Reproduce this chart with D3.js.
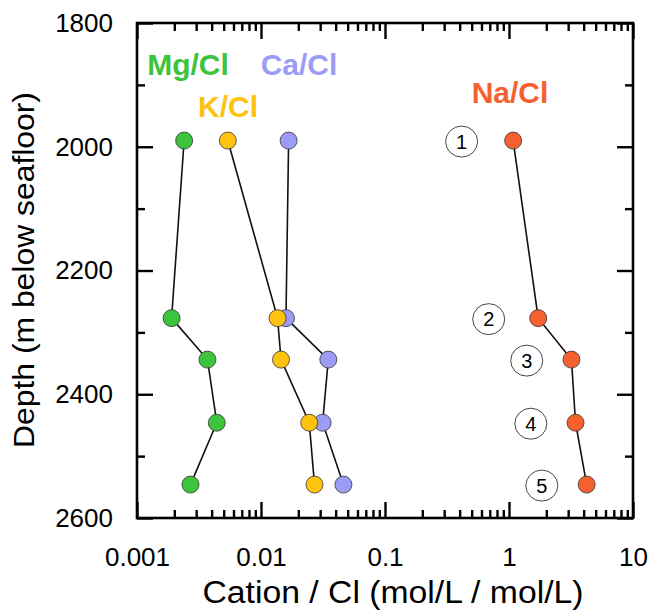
<!DOCTYPE html>
<html>
<head>
<meta charset="utf-8">
<script src="https://cdn.jsdelivr.net/npm/d3@7"></script>
<style>
  html, body { margin: 0; padding: 0; background: #fff; }
  svg { display: block; font-family: "Liberation Sans", Arial, Helvetica, sans-serif; }
</style>
</head>
<body>
<svg id="chart" width="654" height="613"></svg>
<script>
// ---- data ----
const depths = [1990, 2277, 2344, 2446, 2546];
const mgCl = [0.0024, 0.0019, 0.0037, 0.0044, 0.0027];
const kCl  = [0.0054, 0.0136, 0.0145, 0.0245, 0.0270];
const caCl = [0.0167, 0.0159, 0.0349, 0.0314, 0.0462];
const naCl = [1.08, 1.72, 3.19, 3.44, 4.23];
const sampleIds = ["1", "2", "3", "4", "5"];
const sampleLabelX = [0.415, 0.686, 1.39, 1.50, 1.84];
const xTickValues = [0.001, 0.01, 0.1, 1, 10];
const xTickLabels = ["0.001", "0.01", "0.1", "1", "10"];
const yTickValues = [1800, 2000, 2200, 2400, 2600];
const yMinorValues = [1900, 2100, 2300, 2500];
const seriesNames = ["Mg/Cl", "K/Cl", "Ca/Cl", "Na/Cl"];
const seriesColors = ["#3cc43c", "#fdc30f", "#9b9cf5", "#f6602f"];

// ---- layout ----
const svg = d3.select("#chart");
const L = 137, R = 633, T = 23, B = 518;
const x = d3.scaleLog().domain([0.001, 10]).range([L, R]);
const y = d3.scaleLinear().domain([1800, 2600]).range([T, B]);

const minorX = x.ticks().filter(v => !xTickValues.some(t => Math.abs(t - v) / t < 1e-9));

function styleAxis(g) {
  g.select(".domain").remove();
  g.selectAll(".tick line").attr("stroke", "#000").attr("stroke-width", 2.4);
  g.selectAll("text").attr("fill", "#000").attr("font-size", 26);
}

// bottom major
svg.append("g").attr("transform", `translate(0,${B})`)
  .call(d3.axisBottom(x).tickValues(xTickValues).tickSize(-16).tickPadding(30)
    .tickFormat((d, i) => xTickLabels[i]))
  .call(styleAxis);
// bottom minor
svg.append("g").attr("transform", `translate(0,${B})`)
  .call(d3.axisBottom(x).tickValues(minorX).tickSize(-8).tickFormat(""))
  .call(styleAxis);
// top major & minor
svg.append("g").attr("transform", `translate(0,${T})`)
  .call(d3.axisTop(x).tickValues(xTickValues).tickSize(-16).tickFormat(""))
  .call(styleAxis);
svg.append("g").attr("transform", `translate(0,${T})`)
  .call(d3.axisTop(x).tickValues(minorX).tickSize(-8).tickFormat(""))
  .call(styleAxis);
// left major & minor
svg.append("g").attr("transform", `translate(${L},0)`)
  .call(d3.axisLeft(y).tickValues(yTickValues).tickSize(-16).tickPadding(24).tickFormat(d3.format("d")))
  .call(styleAxis);
svg.append("g").attr("transform", `translate(${L},0)`)
  .call(d3.axisLeft(y).tickValues(yMinorValues).tickSize(-8).tickFormat(""))
  .call(styleAxis);
// right major & minor
svg.append("g").attr("transform", `translate(${R},0)`)
  .call(d3.axisRight(y).tickValues(yTickValues).tickSize(-16).tickFormat(""))
  .call(styleAxis);
svg.append("g").attr("transform", `translate(${R},0)`)
  .call(d3.axisRight(y).tickValues(yMinorValues).tickSize(-8).tickFormat(""))
  .call(styleAxis);

// frame
svg.append("rect").attr("x", L).attr("y", T).attr("width", R - L).attr("height", B - T)
  .attr("fill", "none").attr("stroke", "#000").attr("stroke-width", 2.6);

// axis titles
svg.append("text").attr("x", (L + R) / 2 + 8).attr("y", 603)
  .attr("text-anchor", "middle").attr("font-size", 31)
  .attr("textLength", 381).attr("lengthAdjust", "spacingAndGlyphs")
  .text("Cation / Cl (mol/L / mol/L)");
svg.append("text").attr("transform", "translate(34,270) rotate(-90)")
  .attr("text-anchor", "middle").attr("font-size", 30)
  .attr("textLength", 356).attr("lengthAdjust", "spacingAndGlyphs")
  .text("Depth (m below seafloor)");

// series
const series = [
  { name: seriesNames[2], values: caCl, color: seriesColors[2] },
  { name: seriesNames[1], values: kCl,  color: seriesColors[1] },
  { name: seriesNames[0], values: mgCl, color: seriesColors[0] },
  { name: seriesNames[3], values: naCl, color: seriesColors[3] }
];
const line = d3.line().x(d => x(d[0])).y(d => y(d[1]));
series.forEach(s => {
  svg.append("path").datum(s.values.map((v, i) => [v, depths[i]]))
    .attr("d", line).attr("fill", "none").attr("stroke", "#111").attr("stroke-width", 1.6);
});
series.forEach(s => {
  svg.append("g").selectAll("circle").data(s.values.map((v, i) => [v, depths[i]]))
    .join("circle")
    .attr("cx", d => x(d[0])).attr("cy", d => y(d[1])).attr("r", 8.5)
    .attr("fill", s.color).attr("stroke", "#333").attr("stroke-width", 0.8);
});

// series labels
const labelPos = [
  { i: 0, x: 188, y: 75 },
  { i: 2, x: 299, y: 75 },
  { i: 1, x: 228, y: 117 },
  { i: 3, x: 510, y: 103 }
];
labelPos.forEach(p => {
  svg.append("text").attr("x", p.x).attr("y", p.y).attr("text-anchor", "middle")
    .attr("font-size", 30).attr("font-weight", "bold").attr("fill", seriesColors[p.i])
    .text(seriesNames[p.i]);
});

// sample number circles
const ann = svg.append("g");
sampleIds.forEach((id, i) => {
  const cx = x(sampleLabelX[i]), cy = y(depths[i]) + 1;
  ann.append("ellipse").attr("cx", cx).attr("cy", cy).attr("rx", 16).attr("ry", 15.5)
    .attr("fill", "#fff").attr("stroke", "#444").attr("stroke-width", 1);
  ann.append("text").attr("x", cx).attr("y", cy).attr("dy", "0.36em")
    .attr("text-anchor", "middle").attr("font-size", 20).attr("fill", "#000").text(id);
});
</script>
</body>
</html>
